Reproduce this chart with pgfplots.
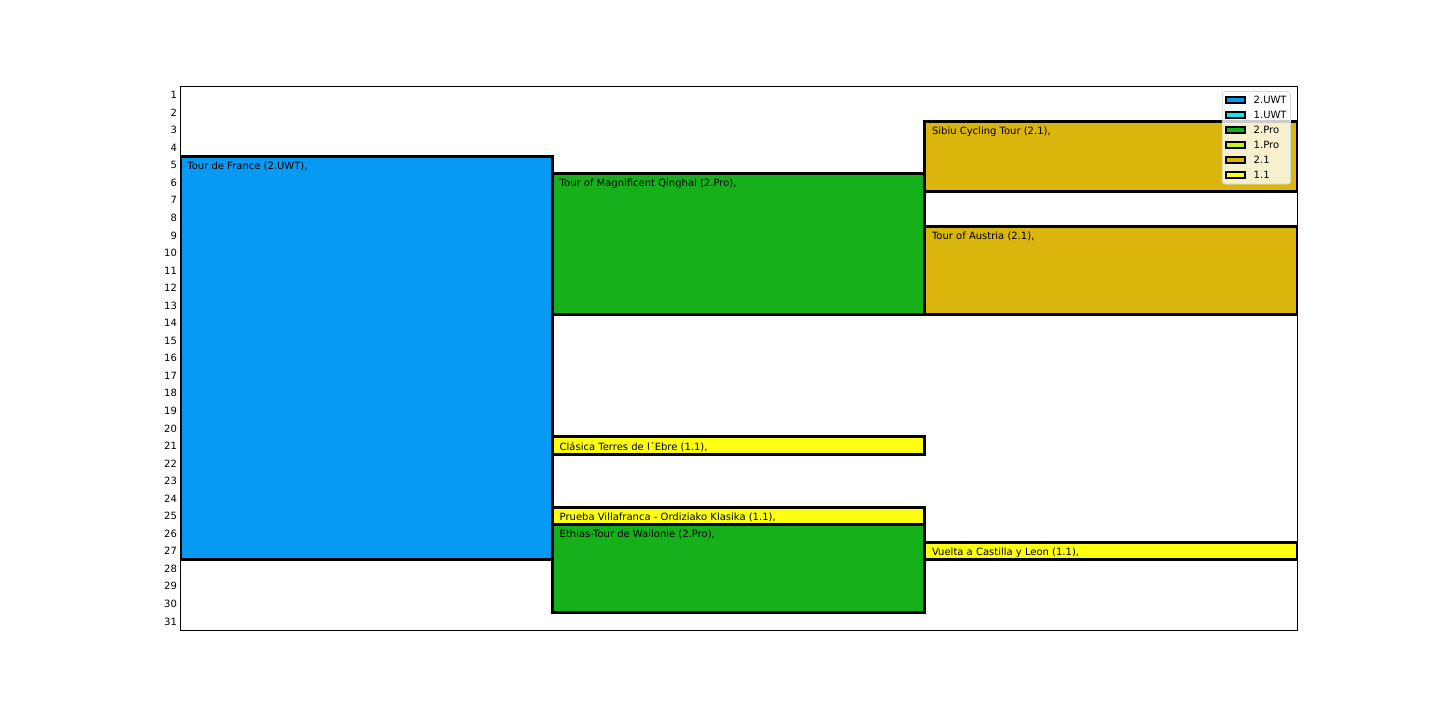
\documentclass[border=0pt]{standalone}
\usepackage{fontspec}
\setmainfont{DejaVu Sans}
\usepackage{pgfplots}
\pgfplotsset{compat=1.18}
\definecolor{cUWTb}{RGB}{8,153,242}
\definecolor{cUWTa}{RGB}{20,228,240}
\definecolor{cProb}{RGB}{22,176,26}
\definecolor{cProa}{RGB}{190,250,20}
\definecolor{cTwoOne}{RGB}{218,181,11}
\definecolor{cOneOne}{RGB}{255,255,16}
\newcommand{\fsz}{\fontsize{5}{6}\selectfont}
\begin{document}
\begin{tikzpicture}
\useasboundingbox (0,0) rectangle (720pt,360pt);
\begin{axis}[
  at={(90pt,45pt)}, anchor=south west, scale only axis,
  width=558.5pt, height=272pt,
  xmin=0, xmax=3, ymin=0.5, ymax=31.5, y dir=reverse,
  xtick=\empty, ytick={1,...,31},
  ytick style={draw=none},
  yticklabel style={font=\fsz, xshift=2pt, yshift=-0.1pt},
  /pgf/number format/assume math mode=true,
  axis line style={line width=0.5pt},
  legend cell align=left,
  legend image code/.code={\draw[#1, draw=black, line width=1pt, fill opacity=1, draw opacity=1, sharp corners] (0pt,-1.5pt) rectangle (9.5pt,1.5pt);},
  legend style={at={(0.9946,0.9908)}, anchor=north east, fill=white, fill opacity=0.8, text opacity=1, draw=black!15, rounded corners=1.5pt, font=\fsz, inner sep=1.2pt, row sep=1.1pt,
    nodes={inner sep=0.8pt, text height=3.8pt, text depth=1pt},
    /tikz/every odd column/.append style={column sep=3.2pt}},
]
% Tour de France
\addplot[fill=cUWTb, draw=black, line width=1.5pt, forget plot] coordinates {(0,4.5) (1,4.5) (1,27.5) (0,27.5)} -- cycle;
% Tour of Magnificent Qinghai
\addplot[fill=cProb, draw=black, line width=1.5pt, forget plot] coordinates {(1,5.5) (2,5.5) (2,13.5) (1,13.5)} -- cycle;
% Clasica Terres de l'Ebre
\addplot[fill=cOneOne, draw=black, line width=1.5pt, forget plot] coordinates {(1,20.5) (2,20.5) (2,21.5) (1,21.5)} -- cycle;
% Prueba Villafranca
\addplot[fill=cOneOne, draw=black, line width=1.5pt, forget plot] coordinates {(1,24.5) (2,24.5) (2,25.5) (1,25.5)} -- cycle;
% Ethias-Tour de Wallonie
\addplot[fill=cProb, draw=black, line width=1.5pt, forget plot] coordinates {(1,25.5) (2,25.5) (2,30.5) (1,30.5)} -- cycle;
% Sibiu Cycling Tour
\addplot[fill=cTwoOne, draw=black, line width=1.5pt, forget plot] coordinates {(2,2.5) (3,2.5) (3,6.5) (2,6.5)} -- cycle;
% Tour of Austria
\addplot[fill=cTwoOne, draw=black, line width=1.5pt, forget plot] coordinates {(2,8.5) (3,8.5) (3,13.5) (2,13.5)} -- cycle;
% Vuelta a Castilla y Leon
\addplot[fill=cOneOne, draw=black, line width=1.5pt, forget plot] coordinates {(2,26.5) (3,26.5) (3,27.5) (2,27.5)} -- cycle;

\begin{scope}[every node/.style={anchor=north west, inner sep=0pt, font=\fsz, xshift=3.5pt, yshift=-2.6pt}]
\node at (axis cs:0,4.5) {Tour de France (2.UWT),};
\node at (axis cs:1,5.5) {Tour of Magnificent Qinghai (2.Pro),};
\node at (axis cs:1,20.5) {Clásica Terres de l´Ebre (1.1),};
\node at (axis cs:1,24.5) {Prueba Villafranca - Ordiziako Klasika (1.1),};
\node at (axis cs:1,25.5) {Ethias-Tour de Wallonie (2.Pro),};
\node at (axis cs:2,2.5) {Sibiu Cycling Tour (2.1),};
\node at (axis cs:2,8.5) {Tour of Austria (2.1),};
\node at (axis cs:2,26.5) {Vuelta a Castilla y Leon (1.1),};
\end{scope}

\addlegendimage{fill=cUWTb}\addlegendentry{2.UWT}
\addlegendimage{fill=cUWTa}\addlegendentry{1.UWT}
\addlegendimage{fill=cProb}\addlegendentry{2.Pro}
\addlegendimage{fill=cProa}\addlegendentry{1.Pro}
\addlegendimage{fill=cTwoOne}\addlegendentry{2.1}
\addlegendimage{fill=cOneOne}\addlegendentry{1.1}
\end{axis}
\end{tikzpicture}
\end{document}
